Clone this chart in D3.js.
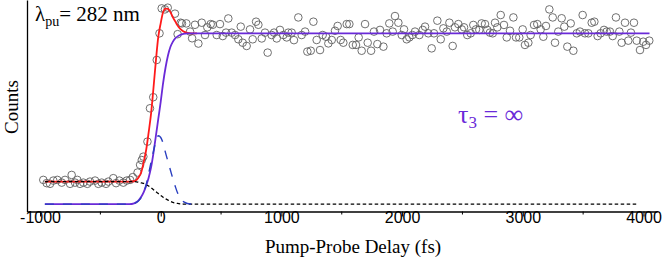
<!DOCTYPE html>
<html>
<head>
<meta charset="utf-8">
<script src="https://cdn.jsdelivr.net/npm/d3@7"></script>
<style>
  body { margin: 0; background: #fff; }
  .tick text { font-family: "Liberation Sans", Arial, sans-serif; font-size: 16px; }
  .serif { font-family: "Liberation Serif", "Times New Roman", serif; }
</style>
</head>
<body>
<div id="chart"></div>
<script>
// measured points (delay in fs, counts normalised to the plateau)
const delays = [-973,-945,-917,-890,-857,-820,-793,-751,-738,-710,-691,-669,-641,-608,-586,-544,-517,-489,-453,-434,-393,-370,-343,-310,-282,-254,-232,-192,-171,-157,-144,-110,-89,-62,-33,-10,8,35,58,118,140,165,176,212,243,260,284,312,340,367,386,414,431,464,491,514,541,560,588,616,643,663,679,712,740,762,790,809,837,864,886,919,939,961,988,1016,1044,1057,1085,1104,1140,1168,1196,1215,1243,1265,1292,1320,1342,1370,1389,1417,1444,1466,1491,1513,1541,1563,1591,1618,1640,1665,1693,1715,1743,1767,1795,1817,1845,1872,1894,1922,1941,1969,1997,2016,2038,2060,2085,2107,2143,2171,2190,2217,2245,2264,2292,2320,2342,2370,2392,2419,2438,2466,2494,2513,2540,2568,2590,2612,2640,2659,2687,2706,2728,2751,2770,2789,2817,2844,2867,2894,2922,2944,2971,2999,3018,3046,3065,3093,3120,3148,3170,3192,3220,3248,3267,3294,3322,3344,3369,3397,3419,3447,3474,3496,3515,3543,3571,3593,3620,3645,3673,3695,3722,3745,3772,3800,3819,3847,3874,3896,3921,3944,3971,3998,4021,4048];
const counts = [.142,.123,.119,.138,.142,.126,.142,.119,.171,.126,.142,.119,.126,.119,.132,.138,.119,.126,.119,.132,.152,.123,.138,.126,.138,.142,.158,.185,.23,.258,.278,.366,.561,.626,.844,1.0,1.146,1.14,1.15,1.115,.995,1.062,1.058,1.058,1.01,.971,1.05,.94,1.062,.99,1.035,1.054,1.05,.99,1.054,.984,1.004,1.087,1.004,.99,.965,1.039,.945,.926,1.023,.965,1.068,1.05,.97,1.004,.887,.99,1.004,.97,1.02,.99,.976,1.004,1.004,.96,1.093,.99,1.01,.893,.898,1.068,.961,.902,.99,.98,.941,.961,1.015,1.043,.961,.945,1.054,1.054,.932,.932,.976,.898,1.054,.945,.898,1.01,.937,1.02,.922,1.0,1.058,1.01,1.101,1.062,.99,1.023,.965,.976,.99,1.01,.99,1.02,1.039,1.0,.912,1.0,1.074,.965,1.029,1.01,1.062,.926,1.035,1.054,1.023,1.035,.99,1.0,1.049,1.023,1.02,1.058,1.054,1.02,1.004,1.0,1.062,1.035,1.107,1.049,.976,1.015,1.093,.976,.976,1.023,.932,.945,.99,1.049,1.054,1.023,.98,1.043,1.14,1.093,.945,1.01,1.088,1.039,.922,1.058,.898,1.0,1.01,1.107,1.0,1.0,1.062,1.068,.984,1.0,1.02,1.01,1.01,.984,1.093,1.01,.945,1.062,.957,1.004,1.062,.957,.902,.951,.932,.957];

// fit curves
const fitDelays = [-960,-260,-220,-200,-180,-160,-140,-120,-100,-80,-60,-40,-20,0,20,40,60,80,100,120,140,160,180,200,220,250,300,3950,4050];
const fitTotal  = [.132,.132,.134,.142,.16,.19,.25,.32,.42,.53,.68,.84,.98,1.06,1.125,1.145,1.143,1.125,1.095,1.07,1.045,1.027,1.015,1.007,1.003,1.0,1.0,1.0,1.0];
const fitTau3   = [0,0,.005,.012,.025,.045,.072,.11,.155,.215,.30,.40,.50,.60,.71,.80,.87,.92,.95,.97,.982,.99,.995,.998,1.0,1.0,1.0,1.0,1.0];
const fitFast   = [0,0,.004,.01,.022,.042,.07,.115,.18,.245,.31,.37,.40,.39,.355,.30,.25,.20,.15,.105,.065,.038,.02,.01,.004,.001,0,0,0];
const fitBack   = [.132,.132,.132,.131,.128,.124,.121,.114,.106,.096,.085,.073,.062,.051,.04,.031,.024,.017,.01,.007,.004,.002,.001,0,0,0,0,0,0];

const majorTicks = [-1000, 0, 1000, 2000, 3000, 4000];
const minorTicks = [-500, 500, 1500, 2500, 3500];
const tickLabels = ["-1000", "0", "1000", "2000", "3000", "4000"];

const width = 663, height = 263;
const margin = { top: 0, right: 6, bottom: 51.5, left: 27 };

const x = d3.scaleLinear()
  .domain([-1108, 4112])
  .range([margin.left, width - margin.right]);

const y = d3.scaleLinear()
  .domain([-0.043, 1.195])
  .range([height - margin.bottom, margin.top]);

const svg = d3.select("#chart").append("svg")
  .attr("width", width)
  .attr("height", height);

const purple = "#6a2ad8";

// data circles
svg.append("g")
  .selectAll("circle")
  .data(delays.map((d, i) => [d, counts[i]]))
  .join("circle")
  .attr("cx", d => x(d[0]))
  .attr("cy", d => y(d[1]))
  .attr("r", 3.8)
  .attr("fill", "none")
  .attr("stroke", "#606060")
  .attr("stroke-width", 0.9);

const line = (vals, n) => d3.line()
  .x((d, i) => x(fitDelays[i]))
  .y(d => y(d))
  .curve(d3.curveMonotoneX)(vals.slice(0, n));

const iPlateau = fitDelays.indexOf(300) + 1;

// red total fit merges into the purple one on the plateau, so stop it there
svg.append("path").attr("d", line(fitTotal, iPlateau))
  .attr("fill", "none").attr("stroke", "#ff1a1a").attr("stroke-width", 1.8);
svg.append("path").attr("d", line(fitTau3))
  .attr("fill", "none").attr("stroke", purple).attr("stroke-width", 1.8);
svg.append("path").attr("d", line(fitBack, fitDelays.length - 1))
  .attr("fill", "none").attr("stroke", "#000").attr("stroke-width", 1.3)
  .attr("stroke-dasharray", "3.5,2.5");
svg.append("path").attr("d", line(fitFast, iPlateau))
  .attr("fill", "none").attr("stroke", "#2a3fc0").attr("stroke-width", 1.4)
  .attr("stroke-dasharray", "9,9");

// axes
const xAxis = svg.append("g")
  .attr("transform", `translate(0,${height - margin.bottom})`)
  .call(d3.axisBottom(x).tickValues(majorTicks).tickSize(5).tickSizeOuter(0)
    .tickFormat((d, i) => tickLabels[i]));
xAxis.selectAll(".tick text").attr("y", 11).attr("dy", 0).attr("fill", "#000");
xAxis.select(".domain").attr("stroke-width", 1.3);

xAxis.selectAll("line.minor")
  .data(minorTicks)
  .join("line")
  .attr("class", "minor")
  .attr("x1", d => x(d)).attr("x2", d => x(d))
  .attr("y1", 0).attr("y2", 3)
  .attr("stroke", "#000");

const yAxis = svg.append("g")
  .attr("transform", `translate(${margin.left},0)`)
  .call(d3.axisLeft(y).tickValues([]).tickSizeOuter(0));
yAxis.select(".domain").attr("stroke-width", 1.3);

// titles
svg.append("text").attr("class", "serif")
  .attr("x", 353).attr("y", 253)
  .attr("text-anchor", "middle").attr("font-size", 19)
  .text("Pump-Probe Delay (fs)");

svg.append("text").attr("class", "serif")
  .attr("transform", "translate(18,107) rotate(-90)")
  .attr("text-anchor", "middle").attr("font-size", 19)
  .text("Counts");

const lam = svg.append("text").attr("class", "serif")
  .attr("x", 35).attr("y", 21).attr("font-size", 21);
lam.append("tspan").text("λ");
lam.append("tspan").attr("font-size", 14).attr("dy", 5).text("pu");
lam.append("tspan").attr("dy", -5).text("= 282 nm");

const tau = svg.append("text").attr("class", "serif")
  .attr("x", 458).attr("y", 123).attr("font-size", 26).attr("fill", purple);
tau.append("tspan").text("τ");
tau.append("tspan").attr("font-size", 17).attr("dy", 5).text("3");
tau.append("tspan").attr("dy", -5).text(" = ∞");
</script>
</body>
</html>
